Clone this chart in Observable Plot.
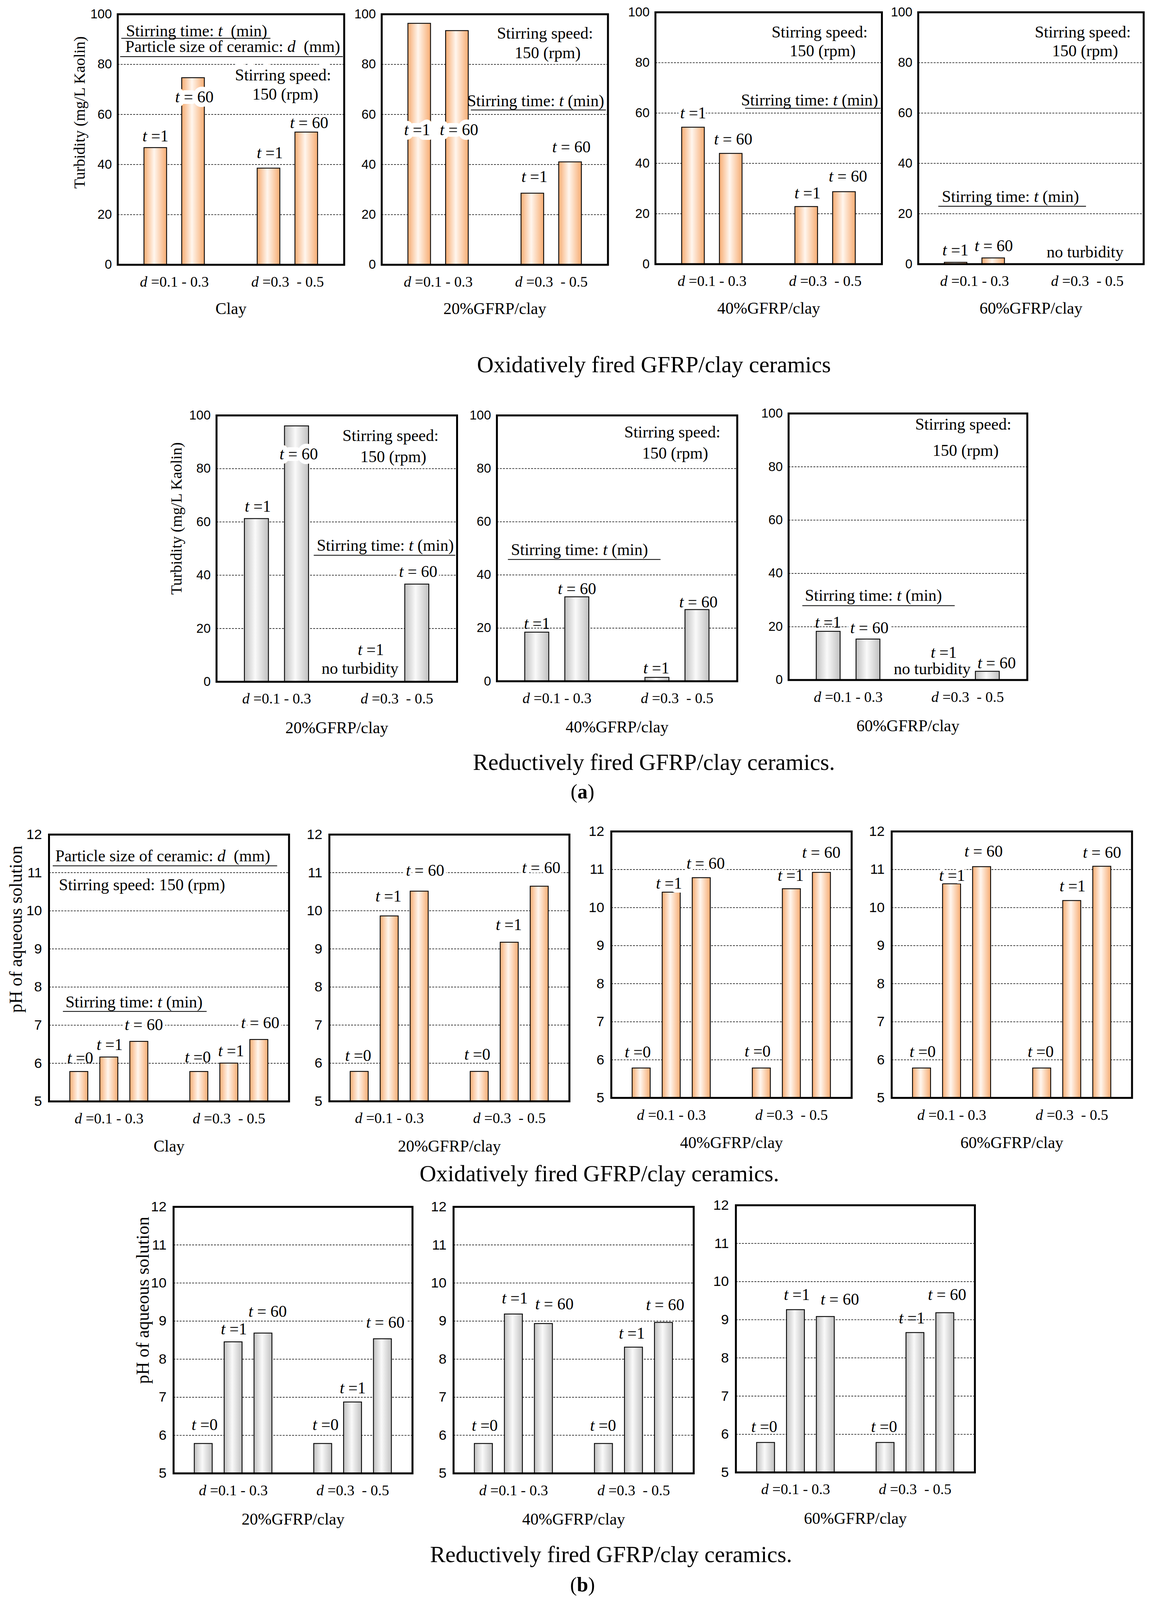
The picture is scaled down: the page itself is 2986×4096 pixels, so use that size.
<!DOCTYPE html>
<html><head><meta charset="utf-8">
<script src="https://cdn.jsdelivr.net/npm/d3@7"></script>
<script src="https://cdn.jsdelivr.net/npm/@observablehq/plot@0.6"></script>
<style>
body{margin:0;background:#fff;overflow:hidden}
#root{position:relative;width:2986px;height:4096px;overflow:hidden;background:#fff}
.title{position:absolute;transform:translate(-50%,-50%);white-space:nowrap;font-family:"Liberation Serif","Times New Roman",serif;color:#000;line-height:1}
</style></head><body>
<div id="root">
<svg width="0" height="0" style="position:absolute;left:0;top:0">
<defs>
<linearGradient id="gOrange" x1="0" x2="1" y1="0" y2="0">
<stop offset="0" stop-color="#F7AC72"/><stop offset="0.45" stop-color="#FFF6EE"/><stop offset="1" stop-color="#F7AC72"/>
</linearGradient>
<linearGradient id="gGray" x1="0" x2="1" y1="0" y2="0">
<stop offset="0" stop-color="#C0C0C0"/><stop offset="0.45" stop-color="#FAFAFA"/><stop offset="1" stop-color="#C0C0C0"/>
</linearGradient>
</defs></svg>
</div>
<script>
// ---------------- data ----------------
const groups = ["d =0.1 - 0.3", "d =0.3  - 0.5"];
const turbTimes = ["t =1", "t = 60"];
const phTimes = ["t =0", "t =1", "t = 60"];

const turbOxNames = ["Clay", "20%GFRP/clay", "40%GFRP/clay", "60%GFRP/clay"];
// per panel: [d1 t1, d1 t60, d2 t1, d2 t60]
const turbOxValues = [
  [46.7, 74.6, 38.5, 52.9],
  [96.3, 93.4, 28.5, 41.0],
  [54.3, 43.9, 22.8, 28.7],
  [0.65, 2.4, null, null]
];
const turbRedNames = ["20%GFRP/clay", "40%GFRP/clay", "60%GFRP/clay"];
const turbRedValues = [
  [61.2, 96.0, null, 36.6],
  [18.4, 31.7, 1.4, 26.9],
  [18.2, 15.3, null, 3.2]
];
const phOxNames = ["Clay", "20%GFRP/clay", "40%GFRP/clay", "60%GFRP/clay"];
// per panel: [d1 t0, d1 t1, d1 t60, d2 t0, d2 t1, d2 t60]
const phOxValues = [
  [5.78, 6.16, 6.57, 5.78, 6.00, 6.62],
  [5.78, 9.86, 10.51, 5.78, 9.17, 10.64],
  [5.78, 10.40, 10.78, 5.78, 10.49, 10.92],
  [5.78, 10.62, 11.07, 5.78, 10.18, 11.08]
];
const phRedNames = ["20%GFRP/clay", "40%GFRP/clay", "60%GFRP/clay"];
const phRedValues = [
  [5.78, 8.45, 8.68, 5.78, 6.87, 8.53],
  [5.78, 9.18, 8.93, 5.78, 8.31, 8.96],
  [5.78, 9.26, 9.08, 5.78, 8.66, 9.18]
];
const turbTicks = [0, 20, 40, 60, 80, 100];
const phTicks = [5, 6, 7, 8, 9, 10, 11, 12];
const turbLabel = "Turbidity (mg/L Kaolin)";
const phLabel = "pH of aqueous solution";
const speedLines = ["Stirring speed:", "150 (rpm)"];
const legendTime = "Stirring time: t  (min)";
const legendTime1 = "Stirring time: t (min)";
const legendSize = "Particle size of ceramic: d  (mm)";

// ---------------- annotations (data units: [x, y, text, anchor, halo]) ----------------
const notesTurbOx = [
  [[1.0,51.4,turbTimes[0]],[2.03,67,turbTimes[1],"m",24],[4.03,44.6,turbTimes[0]],[5.07,56.7,turbTimes[1]],
   [0.22,93.3,legendTime,"s"],[0.2,87.1,legendSize,"s"],[4.38,75.6,speedLines[0],"m",30],[4.44,68,speedLines[1]]],
  [[0.94,53.8,turbTimes[0],"m",24],[2.05,53.8,turbTimes[1],"m",24],[4.05,35.1,turbTimes[0]],[5.03,47,turbTimes[1]],
   [4.33,92.4,speedLines[0]],[4.4,84.6,speedLines[1]],[5.9,65.3,legendTime1,"e"]],
  [[1.0,60,turbTimes[0],"m",14],[2.06,49.6,turbTimes[1]],[4.03,28.2,turbTimes[0]],[5.1,34.9,turbTimes[1]],
   [4.35,92.1,speedLines[0]],[4.43,84.7,speedLines[1]],[5.9,65.1,legendTime1,"e"]],
  [[0.99,5.6,turbTimes[0]],[2.01,7.2,turbTimes[1]],[4.44,4.7,"no turbidity"],
   [4.38,92.1,speedLines[0]],[4.44,84.7,speedLines[1]],[0.63,26.8,legendTime1,"s"]]
];
const linesTurbOx = [
  [[90.4,0.1,4.05],[83.1,0.07,5.97]],
  [[61.8,2.37,5.95]],
  [[61.9,2.38,5.97]],
  [[23.0,0.54,4.47]]
];
const notesTurbRed = [
  [[1.03,65.8,turbTimes[0]],[2.05,85.5,turbTimes[1],"m",24],[4.34,92.4,speedLines[0]],[4.41,84.5,speedLines[1]],
   [5.92,51.2,legendTime1,"e"],[5.03,41.3,turbTimes[1],"m",14],[3.85,12,turbTimes[0]],[3.58,5.0,"no turbidity"]],
  [[1.0,21.7,turbTimes[0]],[2.0,34.7,turbTimes[1]],[3.98,4.9,turbTimes[0]],[5.03,29.8,turbTimes[1]],
   [4.38,93.7,speedLines[0]],[4.45,85.8,speedLines[1]],[0.35,49.4,legendTime1,"s"]],
  [[0.99,21.6,turbTimes[0]],[2.03,19.5,turbTimes[1],"m",14],[3.9,10.3,turbTimes[0]],[3.61,4.1,"no turbidity"],[5.23,6.3,turbTimes[1]],
   [4.39,95.9,speedLines[0]],[4.45,86,speedLines[1]],[0.41,31.7,legendTime1,"s"]]
];
const linesTurbRed = [
  [[47.5,2.43,5.96]],
  [[45.8,0.28,4.09]],
  [[27.9,0.35,4.18]]
];
const notesPhOx = [
  [[0.21,11.44,legendSize,"s"],[0.33,10.68,"Stirring speed: 150 (rpm)","s"],[0.55,7.6,legendTime1,"s"],
   [1.04,6.14,phTimes[0]],[2.02,6.49,phTimes[1]],[3.16,7.01,phTimes[2],"m",14],
   [4.96,6.16,phTimes[0]],[6.07,6.32,phTimes[1]],[7.04,7.06,phTimes[2],"m",14]],
  [[0.96,6.2,phTimes[0]],[1.97,10.38,phTimes[1]],[3.19,11.06,phTimes[2],"m",14],
   [4.93,6.23,phTimes[0]],[5.98,9.63,phTimes[1]],[7.06,11.13,phTimes[2],"m",14]],
  [[0.88,6.2,phTimes[0]],[1.92,10.63,phTimes[1],"m",20],[3.14,11.16,phTimes[2],"m",14],
   [4.87,6.22,phTimes[0]],[5.97,10.84,phTimes[1]],[6.99,11.45,phTimes[2]]],
  [[1.03,6.21,phTimes[0]],[2.01,10.84,phTimes[1],"m",14],[3.06,11.48,phTimes[2]],
   [4.96,6.21,phTimes[0]],[6.02,10.56,phTimes[1]],[7.0,11.45,phTimes[2]]]
];
const linesPhOx = [
  [[11.18,0.13,7.61],[7.36,0.47,5.26]], [], [], []
];
const notesPhRed = [
  [[1.04,6.28,phTimes[0]],[2.02,8.79,phTimes[1]],[3.15,9.25,phTimes[2],"m",14],
   [5.09,6.28,phTimes[0]],[6.0,7.24,phTimes[1]],[7.09,8.96,phTimes[2],"m",14]],
  [[1.04,6.25,phTimes[0]],[2.04,9.6,phTimes[1]],[3.36,9.44,phTimes[2]],
   [4.98,6.25,phTimes[0]],[5.94,8.68,phTimes[1]],[7.05,9.42,phTimes[2]]],
  [[0.95,6.2,phTimes[0]],[2.04,9.66,phTimes[1]],[3.48,9.53,phTimes[2]],
   [4.96,6.2,phTimes[0]],[5.89,9.04,phTimes[1]],[7.07,9.66,phTimes[2]]]
];

// ---------------- layout (reference px at 1143 wide) ----------------
const S = 2986 / 1143;
const SERIF = "Liberation Serif, Times New Roman, serif";
const SANS = "Liberation Sans, Arial, sans-serif";
const frames = {
  turbOx: [[115.1,13.7,337.1,259.2],[373.9,13.7,595.7,259.2],[642.5,12,864.5,258.8],[900,12,1121,258.8]],
  turbRed: [[212.2,407,448,668],[487,407,722.6,667.5],[773,405,1007,666.2]],
  phOx: [[48,817.5,283.3,1079],[322.7,817.6,558,1079],[599,814.5,834.6,1075.6],[874,814.5,1109.6,1075.6]],
  phRed: [[170,1182.6,404.2,1443.8],[444.6,1182.6,680,1443.8],[721,1181,955.3,1442.8]]
};
const titles = [
  ["Oxidatively fired GFRP/clay ceramics", 641, 357, 59],
  ["Reductively fired GFRP/clay ceramics.", 641, 747, 59],
  ["(<b>a</b>)", 571, 776, 52],
  ["Oxidatively fired GFRP/clay ceramics.", 587.5, 1150, 59],
  ["Reductively fired GFRP/clay ceramics.", 599, 1523, 59],
  ["(<b>b</b>)", 571, 1553, 52]
];

const root = document.getElementById("root");
const SVGNS = "http://www.w3.org/2000/svg";

function italicize(svg) {
  svg.querySelectorAll("text, tspan").forEach(el => {
    if (el.children.length) return;
    const s = el.textContent;
    const re = /(^|\s)([td])(?=\s|=)/g;
    if (!re.test(s)) return;
    re.lastIndex = 0;
    el.textContent = "";
    let last = 0, m;
    while ((m = re.exec(s))) {
      const start = m.index + m[1].length;
      if (start > last) el.appendChild(document.createTextNode(s.slice(last, start)));
      const ts = document.createElementNS(SVGNS, "tspan");
      ts.setAttribute("font-style", "italic");
      ts.textContent = m[2];
      el.appendChild(ts);
      last = start + 1;
    }
    if (last < s.length) el.appendChild(document.createTextNode(s.slice(last)));
  });
}

const anchors = {s: "start", m: "middle", e: "end"};

function panel({frame, kind, values, name, notes, lines, fill, yLabel, yShift, nameDy, tickPad}) {
  const [L, T, R, B] = frame;
  const W = (R - L) * S, H = (B - T) * S;
  const mL = 190, mR = 24, mT = 24, mB = 175;
  const n = kind === "turb" ? 2 : 3;
  const xmax = 2 * (n + 1);
  const yTicks = kind === "turb" ? turbTicks : phTicks;
  const ydom = [yTicks[0], yTicks[yTicks.length - 1]];
  const grid = yTicks.slice(1, -1);
  const centers = [(n + 1) / 2, (n + 1) * 1.5];
  const rows = values.map((v, i) => ({value: v, pos: Math.floor(i / n) * (n + 1) + (i % n) + 1}))
                     .filter(d => d.value != null);
  const fontTick = kind === "turb" ? 33 : 36;
  const noteFont = 42;
  const base = {x: d => d[0], y: d => d[1], text: d => d[2], fontSize: noteFont, fontFamily: SERIF, lineAnchor: "middle", fill: "#000"};
  const haloMarks = [], plainMarks = [];
  const keyOf = d => (d[3] || "m") + "|" + (d[4] || 0);
  const keys = [...new Set(notes.map(keyOf))];
  for (const k of keys) {
    const [a, h] = k.split("|");
    const sub = notes.filter(d => keyOf(d) === k);
    const opts = {...base, textAnchor: anchors[a]};
    if (+h > 0) haloMarks.push(Plot.text(sub, {...opts, stroke: "white", strokeWidth: +h, paintOrder: "stroke", strokeLinejoin: "round"}));
    else plainMarks.push(Plot.text(sub, opts));
  }
  const marks = [
    Plot.gridY(grid, {stroke: "#000", strokeOpacity: 1, strokeWidth: 1.5, strokeDasharray: "5,3"}),
    Plot.rectY(rows, {x1: d => d.pos - 0.3, x2: d => d.pos + 0.3, y1: ydom[0], y2: "value", fill, stroke: "#000", strokeWidth: 2.2}),
    Plot.ruleY(lines, {y: d => d[0], x1: d => d[1], x2: d => d[2], stroke: "#000", strokeWidth: 2}),
    ...haloMarks,
    ...plainMarks,
    Plot.axisY(yTicks, {tickSize: 0, tickPadding: tickPad, tickFormat: d => String(d), fontSize: fontTick, fontFamily: SANS, label: null}),
    Plot.axisX(centers, {tickSize: 0, tickPadding: 29, tickFormat: d => groups[centers.indexOf(d)], fontSize: 38, fontFamily: SERIF, label: null}),
    Plot.text([name], {text: d => d, frameAnchor: "bottom", dy: nameDy, lineAnchor: "middle", textAnchor: "middle", fontSize: 42, fontFamily: SERIF, fill: "#000"}),
    Plot.frame({stroke: "#000", strokeWidth: 5})
  ];
  if (yLabel) {
    marks.push(Plot.text([yLabel], {text: d => d, frameAnchor: "left", rotate: -90, textAnchor: "middle", lineAnchor: "middle",
      dx: yShift[0] * S, dy: yShift[1] * S, fontSize: kind === "turb" ? 40 : 46, fontFamily: SERIF, fill: "#000"}));
  }
  const svg = Plot.plot({
    width: W + mL + mR, height: H + mT + mB,
    marginLeft: mL, marginRight: mR, marginTop: mT, marginBottom: mB,
    x: {domain: [0, xmax]},
    y: {domain: ydom},
    style: {background: "transparent", overflow: "visible"},
    marks
  });
  italicize(svg);
  svg.style.position = "absolute";
  svg.style.left = (L * S - mL) + "px";
  svg.style.top = (T * S - mT) + "px";
  svg.style.maxWidth = "none";
  root.appendChild(svg);
}

turbOxNames.forEach((name, i) => panel({
  frame: frames.turbOx[i], kind: "turb", values: turbOxValues[i], name,
  notes: notesTurbOx[i], lines: linesTurbOx[i], fill: "url(#gOrange)",
  yLabel: i === 0 ? turbLabel : null, yShift: [-37.3, -26.5], nameDy: 113, tickPad: 15
}));
turbRedNames.forEach((name, i) => panel({
  frame: frames.turbRed[i], kind: "turb", values: turbRedValues[i], name,
  notes: notesTurbRed[i], lines: linesTurbRed[i], fill: "url(#gGray)",
  yLabel: i === 0 ? turbLabel : null, yShift: [-39, -29.5], nameDy: 118, tickPad: 15
}));
phOxNames.forEach((name, i) => panel({
  frame: frames.phOx[i], kind: "ph", values: phOxValues[i], name,
  notes: notesPhOx[i], lines: linesPhOx[i], fill: "url(#gOrange)",
  yLabel: i === 0 ? phLabel : null, yShift: [-32.3, -38], nameDy: 115, tickPad: 18
}));
phRedNames.forEach((name, i) => panel({
  frame: frames.phRed[i], kind: "ph", values: phRedValues[i], name,
  notes: notesPhRed[i], lines: [], fill: "url(#gGray)",
  yLabel: i === 0 ? phLabel : null, yShift: [-30, -39], nameDy: 118, tickPad: 18
}));

for (const [html, cx, cy, fs] of titles) {
  const div = document.createElement("div");
  div.className = "title";
  div.innerHTML = html;
  div.style.left = (cx * S) + "px";
  div.style.top = (cy * S) + "px";
  div.style.fontSize = fs + "px";
  root.appendChild(div);
}
</script>
</body></html>
